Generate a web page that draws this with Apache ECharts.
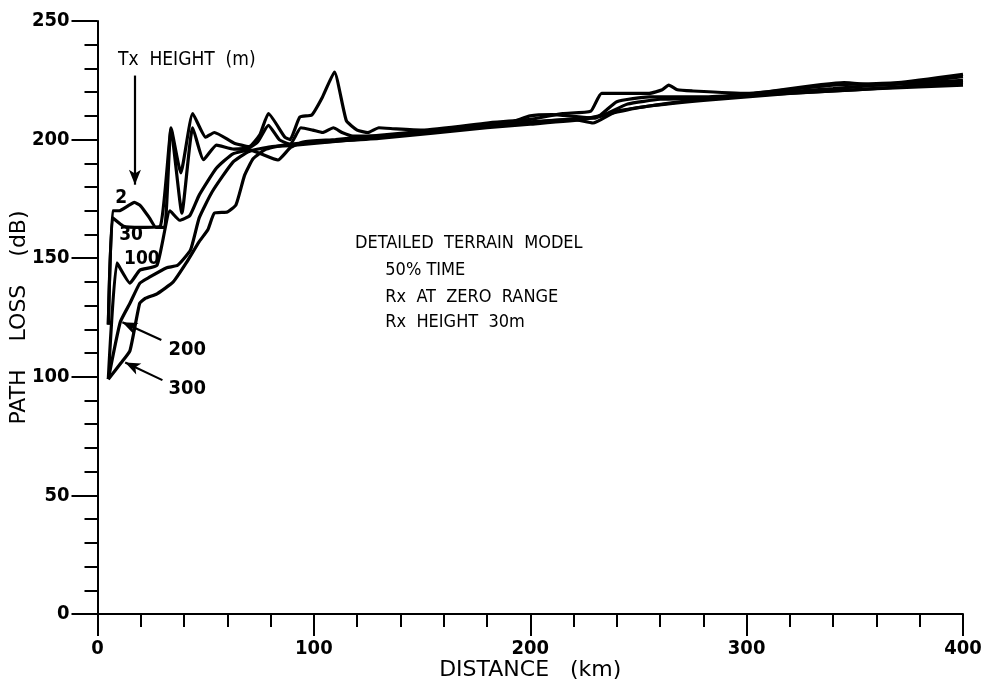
<!DOCTYPE html>
<html>
<head>
<meta charset="utf-8">
<script src="https://cdn.jsdelivr.net/npm/echarts@6/dist/echarts.min.js"></script>
<style>
  html, body { margin: 0; background: #fff; }
  #chart { width: 987px; height: 682px; }
</style>
</head>
<body>
<div id="chart"></div>
<script>
// Tx heights (m) for each curve
const txHeights = ["2", "30", "100", "200", "300"];

// [distance km, path loss dB]
const tx2 = [[5,122],[7,170],[10,170],[14,172],[17,173.5],[20,172],[24,167],[27,163],[31,163],[34,205],[38.5,186],[44,211],[50,201],[54,203],[63,198.6],[70,197],[75,202],[79,211],[86.6,201],[89,200],[93.5,209.5],[99,210.4],[104,218],[109.5,228.5],[115,208],[120,204],[125,203],[130,205],[138,204.5],[150,204],[180,207],[200,208.5],[215,211],[228,212],[233,219.5],[255,219.5],[261,221],[264,223],[268,221],[275,220.5],[300,219.5],[340,223],[370,224],[400,227.5]];
const tx30 = [[5,122],[7,167],[12,163.5],[20,163],[29,163.5],[34,204],[39,169],[44,205],[49,191.5],[55,197.7],[63,196],[70,196.5],[74,199],[79,206],[84,200],[89,198],[94,205],[99.5,204],[104,203],[109,205],[113,203],[118,201.5],[130,201.5],[160,204],[190,207],[200,210],[210,210.5],[218,210],[230,209],[240,216],[255,218],[280,218],[300,219],[340,221.5],[380,224.5],[400,226.5]];
const tx100 = [[5,99],[9,148],[15,139.5],[19.6,145],[27.5,147],[33.5,170],[38,166],[42.7,168],[47,176.6],[55,188],[62.6,194],[70.4,195.6],[83.4,191.4],[89,196.5],[95,199],[110,200],[150,203.5],[200,207.5],[225,209],[233,210],[245,215],[260,217],[280,217.5],[300,219],[345,224],[360,223],[400,225]];
const tx200 = [[5,99],[10.5,123],[15,131],[19.6,139.5],[24,142],[32,146],[37,147],[43,153.5],[47,167],[53,178],[62.6,190.5],[70,195],[80,197],[90,197.5],[130,201],[180,205.5],[210,208],[220,208.5],[229,207],[240,212],[270,216],[300,218.5],[350,221],[400,224]];
const tx300 = [[5,99],[11,106],[15,111],[19.5,131],[22,133],[27.5,135],[35,140],[41,148],[47,157],[51,162],[54,169],[60,169.5],[64,172.5],[68,185],[72,192],[78,196],[88,198],[130,200.5],[180,205],[200,206.5],[225,208.5],[232,210],[250,213.5],[280,216.5],[320,219.5],[360,221.5],[400,223]];
const curves = [tx2, tx30, tx100, tx200, tx300];

const yTicks = [0, 50, 100, 150, 200, 250];
const xTicks = [0, 100, 200, 300, 400];

const font = "'DejaVu Sans Condensed', 'DejaVu Sans', sans-serif";
const nameFont = "'DejaVu Sans', sans-serif";
const ink = "#000";

const chart = echarts.init(document.getElementById("chart"));

const series = curves.map((pts, i) => ({
  name: txHeights[i],
  type: "line",
  data: pts,
  showSymbol: false,
  smooth: 0.15,
  lineStyle: { color: ink, width: 3.2 },
  silent: true,
  z: 3
}));

// arrows: Tx height marker, and pointers to the 200 / 300 curves
series[0].markLine = {
  silent: true,
  symbol: ["none", "arrow"],
  symbolSize: [9, 15],
  label: { show: false },
  lineStyle: { color: ink, width: 2.2, type: "solid" },
  data: [
    [{ coord: [17.3, 227] }, { coord: [17.3, 181] }],
    [{ coord: [29.5, 115.5] }, { coord: [11.5, 123] }],
    [{ coord: [30, 98.6] }, { coord: [12.8, 106] }]
  ]
};

chart.setOption({
  animation: false,
  backgroundColor: "#fff",
  grid: { left: 97.5, right: 24, top: 21, bottom: 68, containLabel: false, outerBoundsMode: "none" },
  xAxis: {
    type: "value",
    min: 0, max: 400, interval: 100,
    name: "DISTANCE   (km)",
    nameLocation: "middle",
    nameGap: 45,
    nameMoveOverlap: false,
    nameTextStyle: { fontFamily: nameFont, fontSize: 22, color: ink },
    axisLine: { onZero: false, lineStyle: { color: ink, width: 2 } },
    axisTick: { length: 22, lineStyle: { color: ink, width: 2 } },
    minorTick: { show: true, splitNumber: 5, length: 13, lineStyle: { color: ink, width: 2 } },
    splitLine: { show: false },
    axisLabel: { fontFamily: font, fontSize: 20, fontWeight: "bold", color: ink, margin: 25,
      formatter: v => xTicks.includes(v) ? String(v) : "" }
  },
  yAxis: {
    type: "value",
    min: 0, max: 250, interval: 50,
    name: "PATH    LOSS    (dB)",
    nameLocation: "middle",
    nameGap: 67,
    nameMoveOverlap: false,
    nameRotate: 90,
    nameTextStyle: { fontFamily: nameFont, fontSize: 22, color: ink },
    axisLine: { show: true, onZero: false, lineStyle: { color: ink, width: 2 } },
    axisTick: { show: true, length: 26, lineStyle: { color: ink, width: 2 } },
    minorTick: { show: true, splitNumber: 5, length: 13, lineStyle: { color: ink, width: 2 } },
    splitLine: { show: false },
    axisLabel: { fontFamily: font, fontSize: 20, fontWeight: "bold", color: ink, margin: 28,
      formatter: v => yTicks.includes(v) ? String(v) : "" }
  },
  series: series
});

// text annotations, placed in data coordinates
const notes = [
  { text: "Tx  HEIGHT  (m)", at: [9.5, 233.6], align: "left", size: 19, bold: false },
  { text: "2", at: [10.9, 175.5], align: "center", size: 19, bold: true },
  { text: "30", at: [15.5, 159.8], align: "center", size: 19, bold: true },
  { text: "100", at: [20.5, 149.8], align: "center", size: 19, bold: true },
  { text: "200", at: [41.5, 111.3], align: "center", size: 20, bold: true },
  { text: "300", at: [41.5, 94.9], align: "center", size: 20, bold: true },
  { text: "DETAILED  TERRAIN  MODEL", at: [119, 156.4], align: "left", size: 18, bold: false },
  { text: "50% TIME", at: [133, 145], align: "left", size: 18, bold: false },
  { text: "Rx  AT  ZERO  RANGE", at: [133, 133.6], align: "left", size: 18, bold: false },
  { text: "Rx  HEIGHT  30m", at: [133, 123], align: "left", size: 18, bold: false }
];

chart.setOption({
  graphic: notes.map(n => {
    const p = chart.convertToPixel({ gridIndex: 0 }, n.at);
    return {
      type: "text",
      x: p[0], y: p[1],
      silent: true,
      z: 10,
      style: {
        text: n.text,
        fontFamily: font,
        fontSize: n.size,
        fontWeight: n.bold ? "bold" : "normal",
        fill: ink,
        textAlign: n.align,
        textVerticalAlign: "middle"
      }
    };
  })
});

window.addEventListener("resize", () => chart.resize());
</script>
</body>
</html>
